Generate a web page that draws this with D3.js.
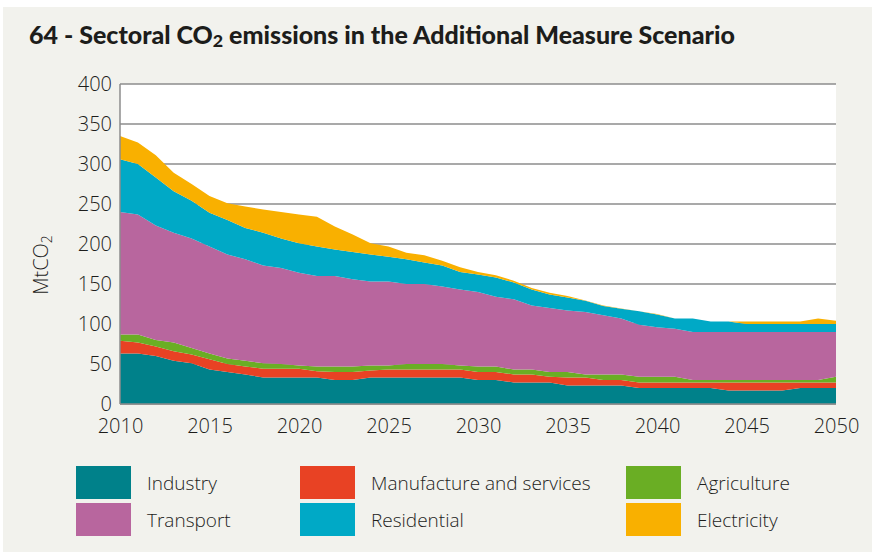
<!DOCTYPE html>
<html>
<head>
<meta charset="utf-8">
<script src="https://cdn.jsdelivr.net/npm/d3@7/dist/d3.min.js"></script>
<style>
  body { margin: 0; background: #fff; }
  text { font-family: "Open Sans", Lato, sans-serif; fill: #1d1d1b; }
</style>
</head>
<body>
<div id="chart"></div>
<script>
var years = [2010, 2011, 2012, 2013, 2014, 2015, 2016, 2017, 2018, 2019,
             2020, 2021, 2022, 2023, 2024, 2025, 2026, 2027, 2028, 2029,
             2030, 2031, 2032, 2033, 2034, 2035, 2036, 2037, 2038, 2039,
             2040, 2041, 2042, 2043, 2044, 2045, 2046, 2047, 2048, 2049, 2050];

// MtCO2 per sector
var industry    = [63, 63, 60, 54, 51, 43, 40, 37, 33, 33, 33, 33, 30, 30, 33, 33, 33, 33, 33, 33,
                   30, 30, 27, 27, 27, 23, 23, 23, 23, 20, 20, 20, 20, 20, 17, 17, 17, 17, 20, 20, 20];
var manufacture = [16, 14, 12, 12, 11, 13, 10, 10, 11, 11, 11, 8, 10, 10, 9, 10, 10, 10, 10, 10,
                   10, 10, 10, 10, 7, 10, 10, 7, 7, 7, 7, 7, 7, 7, 10, 10, 10, 10, 7, 7, 7];
var agriculture = [8, 10, 8, 11, 8, 7, 7, 7, 7, 6, 4, 6, 7, 7, 6, 5, 7, 7, 7, 5,
                   7, 7, 6, 6, 6, 7, 4, 7, 7, 7, 7, 7, 3, 3, 3, 3, 3, 3, 3, 3, 7];
var transport   = [153, 150, 143, 137, 137, 134, 130, 127, 122, 120, 116, 113, 113, 109, 105, 105, 100, 100, 97, 95,
                   93, 87, 88, 80, 80, 77, 78, 74, 70, 65, 62, 60, 60, 60, 60, 60, 60, 60, 60, 60, 56];
var residential = [66, 63, 60, 52, 47, 42, 43, 39, 41, 37, 37, 37, 33, 34, 34, 31, 31, 27, 26, 22,
                   22, 24, 21, 20, 17, 16, 14, 11.5, 12, 17, 16, 13, 17, 13, 13, 10, 10, 10, 10, 10, 10];
var electricity = [29, 27, 28, 23, 21, 21, 21, 27, 29, 33, 36, 37, 29, 22, 14, 13, 8, 9, 6, 6,
                   3, 3, 2, 2, 2, 2, 0.5, 0.5, 0.5, 0, 0.5, 0, 0, 0, 0, 3, 3, 3, 3, 7, 4];

var sectors = ["Industry", "Manufacture and services", "Agriculture", "Transport", "Residential", "Electricity"];
var colors  = ["#00818a", "#e84224", "#6aae24", "#b8669e", "#00a9c6", "#f9b000"];
var yTicks  = [0, 50, 100, 150, 200, 250, 300, 350, 400];
var xTicks  = [2010, 2015, 2020, 2025, 2030, 2035, 2040, 2045, 2050];

var W = 886, H = 552;
var margin = {top: 84, left: 120},
    width = 716,
    height = 320;

var rows = years.map(function(y, i) {
  return {
    year: y,
    "Industry": industry[i],
    "Manufacture and services": manufacture[i],
    "Agriculture": agriculture[i],
    "Transport": transport[i],
    "Residential": residential[i],
    "Electricity": electricity[i]
  };
});

var svg = d3.select("#chart").append("svg")
  .attr("width", W)
  .attr("height", H);

// beige panel
svg.append("rect")
  .attr("x", 3).attr("y", 7)
  .attr("width", 869).attr("height", H - 7)
  .attr("fill", "#f2f2ed");

// title
var title = svg.append("text")
  .attr("x", 29).attr("y", 44)
  .style("font-family", "Lato, 'Open Sans', sans-serif")
  .style("font-weight", "900")
  .style("font-size", "21px");
title.append("tspan").text("64 - Sectoral CO");
title.append("tspan").text("2").style("font-size", "15px").attr("dy", 3);
title.append("tspan").text(" emissions in the Additional Measure Scenario").attr("dy", -3);
var tl = title.node().getComputedTextLength();
title.style("font-size", (21 * 706 / tl) + "px");
title.select("tspan:nth-child(2)").style("font-size", (15 * 706 / tl) + "px");

var g = svg.append("g")
  .attr("transform", "translate(" + margin.left + "," + margin.top + ")");

var x = d3.scaleLinear().domain([2010, 2050]).range([0, width]);
var y = d3.scaleLinear().domain([0, 400]).range([height, 0]);

g.append("rect")
  .attr("width", width).attr("height", height)
  .attr("fill", "#fff");

// gridlines
g.selectAll(".grid")
  .data(yTicks)
  .join("line")
  .attr("class", "grid")
  .attr("x1", 0).attr("x2", width)
  .attr("y1", function(d) { return y(d); })
  .attr("y2", function(d) { return y(d); })
  .attr("stroke", "#8c8c8c")
  .attr("stroke-width", 1.5);

var stack = d3.stack().keys(sectors);
var series = stack(rows);

var area = d3.area()
  .x(function(d) { return x(d.data.year); })
  .y0(function(d) { return y(d[0]); })
  .y1(function(d) { return y(d[1]); });

g.selectAll(".layer")
  .data(series)
  .join("path")
  .attr("class", "layer")
  .attr("d", area)
  .attr("fill", function(d, i) { return colors[i]; });

// axes lines
g.append("line")
  .attr("x1", 0).attr("x2", width)
  .attr("y1", height).attr("y2", height)
  .attr("stroke", "#8c8c8c").attr("stroke-width", 1.5);
g.append("line")
  .attr("x1", 0).attr("x2", 0)
  .attr("y1", 0).attr("y2", height)
  .attr("stroke", "#8c8c8c").attr("stroke-width", 1.5);

// tick labels
var yAxis = d3.axisLeft(y).tickValues(yTicks).tickSize(0).tickPadding(8);
var yG = g.append("g").call(yAxis);
yG.select(".domain").remove();
yG.selectAll("text")
  .style("font-size", "20px")
  .style("font-family", "'Open Sans', Lato, sans-serif")
  .style("font-weight", "300")
  .attr("fill", "#1d1d1b");

var xAxis = d3.axisBottom(x).tickValues(xTicks).tickFormat(d3.format("d")).tickSize(0).tickPadding(15);
var xG = g.append("g").attr("transform", "translate(0," + height + ")").call(xAxis);
xG.select(".domain").remove();
xG.selectAll("text")
  .style("font-size", "20px")
  .style("font-family", "'Open Sans', Lato, sans-serif")
  .style("font-weight", "300")
  .attr("fill", "#1d1d1b");

// y title
var yt = svg.append("text")
  .attr("transform", "translate(48,265) rotate(-90)")
  .attr("text-anchor", "middle")
  .style("font-size", "20px")
  .style("font-weight", "300");
yt.append("tspan").text("MtCO");
yt.append("tspan").text("2").style("font-size", "14px").attr("dy", 4);

// legend
var legX = [76, 300, 626];
var legY = [466, 503];
var order = [
  {i: 0, col: 0, row: 0}, {i: 1, col: 1, row: 0}, {i: 2, col: 2, row: 0},
  {i: 3, col: 0, row: 1}, {i: 4, col: 1, row: 1}, {i: 5, col: 2, row: 1}
];
var leg = svg.selectAll(".leg")
  .data(order)
  .join("g")
  .attr("class", "leg")
  .attr("transform", function(d) { return "translate(" + legX[d.col] + "," + legY[d.row] + ")"; });
leg.append("rect")
  .attr("width", 55).attr("height", 33)
  .attr("fill", function(d) { return colors[d.i]; });
leg.append("text")
  .attr("x", 71).attr("y", 24)
  .style("font-size", "19px")
  .style("font-weight", "300")
  .text(function(d) { return sectors[d.i]; });
</script>
</body>
</html>
